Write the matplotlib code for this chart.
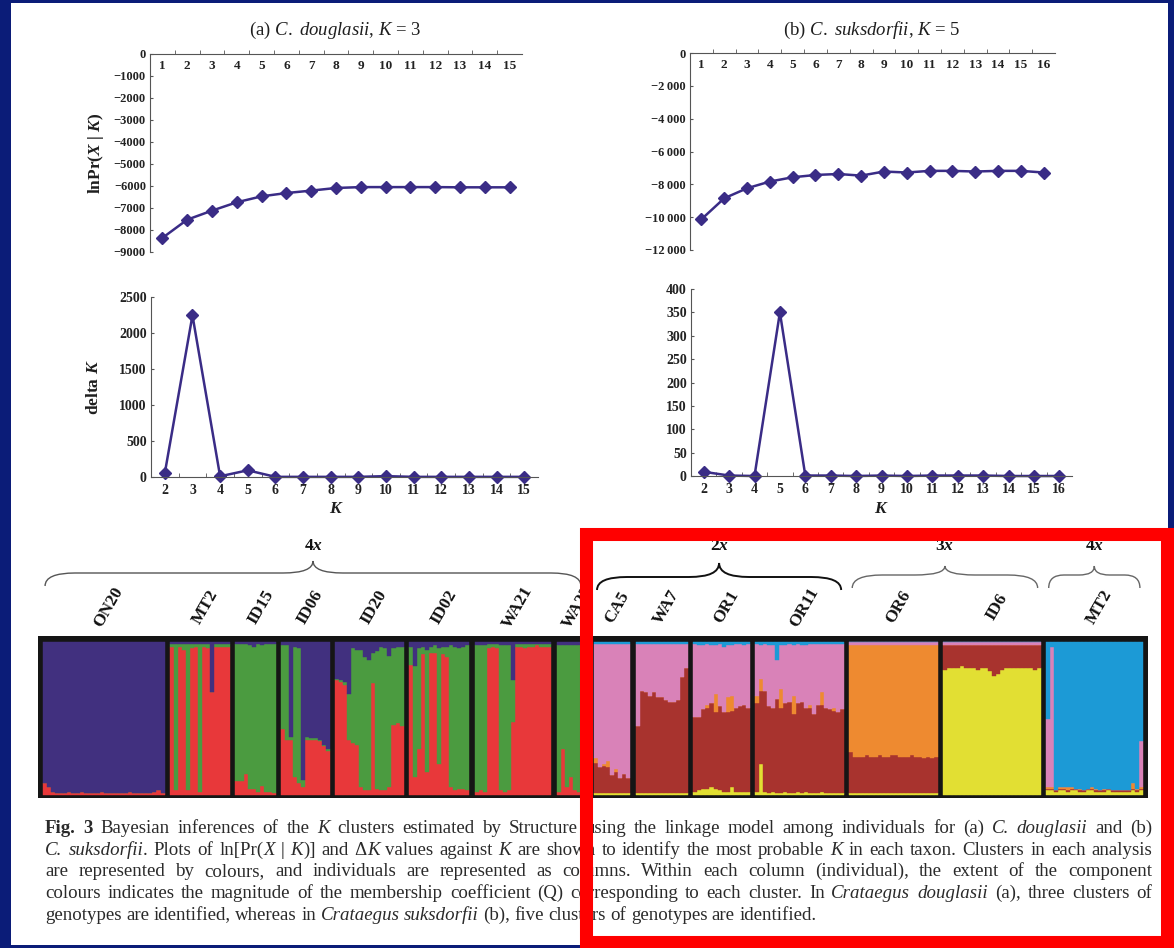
import numpy as np
import matplotlib.pyplot as plt
from matplotlib.path import Path
from matplotlib.patches import PathPatch, Rectangle
from matplotlib.ticker import FuncFormatter

plt.rcParams['font.family'] = ['Liberation Serif', 'DejaVu Serif']
plt.rcParams['font.weight'] = 'bold'
plt.rcParams['mathtext.fontset'] = 'custom'
plt.rcParams['mathtext.rm'] = 'Liberation Serif:weight=normal'
plt.rcParams['mathtext.it'] = 'Liberation Serif:style=italic:weight=normal'
plt.rcParams['mathtext.bf'] = 'Liberation Serif:weight=bold'
plt.rcParams['mathtext.bfit'] = 'Liberation Serif:style=italic:weight=bold'

W, H = 1174, 948

# ---- ln Pr(X|K) and delta K ----
k_doug = [1, 2, 3, 4, 5, 6, 7, 8, 9, 10, 11, 12, 13, 14, 15]
lnpr_doug = [-8360, -7530, -7120, -6740, -6470, -6320, -6210, -6090, -6050,
             -6050, -6050, -6050, -6060, -6060, -6060]
k_suks = [1, 2, 3, 4, 5, 6, 7, 8, 9, 10, 11, 12, 13, 14, 15, 16]
lnpr_suks = [-10130, -8850, -8240, -7830, -7570, -7430, -7370, -7470, -7220,
             -7280, -7180, -7180, -7220, -7180, -7180, -7280]
dk_k_doug = [2, 3, 4, 5, 6, 7, 8, 9, 10, 11, 12, 13, 14, 15]
dk_doug = [55, 2245, 10, 93, 2, 2, 2, 2, 12, 2, 2, 2, 2, 2]
dk_k_suks = [2, 3, 4, 5, 6, 7, 8, 9, 10, 11, 12, 13, 14, 15, 16]
dk_suks = [9, 1, 0, 350, 1, 1, 0, 1, 0, 1, 1, 1, 0, 0, 0]

# ---- Structure bar plots: (a) red / green, purple on top ----
pops_a = ['ON20', 'MT2', 'ID15', 'ID06', 'ID20', 'ID02', 'WA21', 'WA22']
red_a = [
    [0.08, 0.05, 0.02, 0.01, 0.01, 0.01, 0.02, 0.01, 0.01, 0.02, 0.01, 0.01, 0.01, 0.01, 0.02,
     0.01, 0.01, 0.01, 0.01, 0.01, 0.01, 0.02, 0.01, 0.01, 0.01, 0.01, 0.01, 0.02, 0.03, 0.01],
    [0.97, 0.03, 0.97, 0.95, 0.03, 0.96, 0.97, 0.02, 0.97, 0.96, 0.67, 0.97, 0.97, 0.97, 0.97],
    [0.09, 0.09, 0.14, 0.04, 0.04, 0.02, 0.06, 0.02, 0.02, 0.01],
    [0.43, 0.36, 0.36, 0.12, 0.08, 0.05, 0.36, 0.36, 0.36, 0.35, 0.32, 0.29],
    [0.75, 0.74, 0.72, 0.36, 0.34, 0.33, 0.05, 0.03, 0.03, 0.73, 0.04, 0.03, 0.03, 0.05, 0.46,
     0.47, 0.45],
    [0.85, 0.12, 0.30, 0.92, 0.15, 0.93, 0.93, 0.20, 0.92, 0.90, 0.05, 0.03, 0.04, 0.04, 0.03],
    [0.02, 0.03, 0.02, 0.96, 0.97, 0.96, 0.03, 0.02, 0.03, 0.48, 0.97, 0.97, 0.96, 0.97, 0.97,
     0.98, 0.97, 0.97, 0.97],
    [0.02, 0.30, 0.05, 0.12, 0.03, 0.02, 0.02, 0.02],
]
green_a = [
    [0.00, 0.00, 0.00, 0.00, 0.00, 0.00, 0.00, 0.00, 0.00, 0.00, 0.00, 0.00, 0.00, 0.00, 0.00,
     0.00, 0.00, 0.00, 0.00, 0.00, 0.00, 0.00, 0.00, 0.00, 0.00, 0.00, 0.00, 0.00, 0.00, 0.00],
    [0.02, 0.96, 0.02, 0.04, 0.96, 0.03, 0.02, 0.97, 0.02, 0.03, 0.00, 0.02, 0.02, 0.02, 0.02],
    [0.90, 0.90, 0.85, 0.94, 0.93, 0.97, 0.92, 0.97, 0.97, 0.98],
    [0.55, 0.62, 0.02, 0.85, 0.88, 0.05, 0.02, 0.01, 0.01, 0.01, 0.01, 0.01],
    [0.01, 0.01, 0.02, 0.30, 0.62, 0.62, 0.90, 0.87, 0.85, 0.20, 0.90, 0.94, 0.93, 0.86, 0.50,
     0.50, 0.52],
    [0.12, 0.72, 0.66, 0.05, 0.80, 0.04, 0.05, 0.76, 0.05, 0.07, 0.93, 0.94, 0.92, 0.93, 0.95],
    [0.96, 0.95, 0.96, 0.03, 0.02, 0.03, 0.95, 0.96, 0.95, 0.27, 0.02, 0.02, 0.03, 0.02, 0.02,
     0.01, 0.02, 0.02, 0.02],
    [0.96, 0.68, 0.93, 0.86, 0.95, 0.96, 0.96, 0.96],
]

# ---- (b) yellow / dark red / orange / pink, blue on top ----
pops_b = ['CA5', 'WA7', 'OR1', 'OR11', 'OR6', 'ID6', 'MT2']
yellow_b = [
    [0.01, 0.01, 0.01, 0.01, 0.01, 0.01, 0.01, 0.01, 0.01],
    [0.01, 0.01, 0.01, 0.01, 0.01, 0.01, 0.01, 0.01, 0.01, 0.01, 0.01, 0.01, 0.01],
    [0.02, 0.03, 0.04, 0.04, 0.05, 0.04, 0.03, 0.02, 0.02, 0.05, 0.02, 0.02, 0.02, 0.02],
    [0.02, 0.20, 0.02, 0.01, 0.02, 0.01, 0.01, 0.02, 0.01, 0.01, 0.02, 0.01, 0.02, 0.01, 0.01,
     0.01, 0.02, 0.01, 0.01, 0.01, 0.01, 0.01],
    [0.01, 0.01, 0.01, 0.01, 0.01, 0.01, 0.01, 0.01, 0.01, 0.01, 0.01, 0.01, 0.01, 0.01, 0.01,
     0.01, 0.01, 0.01, 0.01, 0.01, 0.01, 0.01],
    [0.82, 0.83, 0.83, 0.83, 0.84, 0.83, 0.83, 0.83, 0.82, 0.83, 0.83, 0.81, 0.78, 0.79, 0.82,
     0.83, 0.83, 0.83, 0.83, 0.83, 0.83, 0.83, 0.82, 0.83],
    [0.03, 0.03, 0.02, 0.03, 0.03, 0.02, 0.03, 0.03, 0.02, 0.02, 0.03, 0.03, 0.02, 0.02, 0.02,
     0.03, 0.02, 0.02, 0.02, 0.02, 0.02, 0.03, 0.02, 0.03],
]
darkred_b = [
    [0.20, 0.17, 0.18, 0.17, 0.12, 0.14, 0.10, 0.13, 0.10],
    [0.44, 0.67, 0.66, 0.64, 0.66, 0.63, 0.63, 0.61, 0.60, 0.60, 0.61, 0.76, 0.82],
    [0.49, 0.48, 0.52, 0.53, 0.55, 0.50, 0.55, 0.52, 0.52, 0.50, 0.55, 0.56, 0.57, 0.55],
    [0.58, 0.48, 0.66, 0.57, 0.55, 0.62, 0.56, 0.58, 0.60, 0.52, 0.58, 0.60, 0.55, 0.56, 0.52,
     0.58, 0.57, 0.56, 0.55, 0.54, 0.53, 0.55],
    [0.27, 0.24, 0.24, 0.24, 0.25, 0.24, 0.24, 0.25, 0.24, 0.24, 0.25, 0.25, 0.24, 0.24, 0.24,
     0.25, 0.24, 0.24, 0.23, 0.24, 0.23, 0.24],
    [0.16, 0.15, 0.15, 0.15, 0.14, 0.15, 0.15, 0.15, 0.16, 0.15, 0.15, 0.17, 0.20, 0.19, 0.16,
     0.15, 0.15, 0.15, 0.15, 0.15, 0.15, 0.15, 0.16, 0.15],
    [0.01, 0.01, 0.01, 0.01, 0.01, 0.01, 0.01, 0.01, 0.01, 0.01, 0.01, 0.01, 0.01, 0.01, 0.01,
     0.01, 0.01, 0.01, 0.01, 0.01, 0.01, 0.01, 0.01, 0.01],
]
orange_b = [
    [0.03, 0.00, 0.01, 0.04, 0.00, 0.02, 0.00, 0.00, 0.00],
    [0.00, 0.00, 0.00, 0.00, 0.00, 0.00, 0.00, 0.00, 0.00, 0.00, 0.00, 0.00, 0.00],
    [0.00, 0.00, 0.00, 0.02, 0.00, 0.12, 0.00, 0.00, 0.10, 0.10, 0.00, 0.00, 0.00, 0.00],
    [0.05, 0.08, 0.00, 0.00, 0.00, 0.00, 0.12, 0.00, 0.00, 0.12, 0.00, 0.00, 0.00, 0.02, 0.00,
     0.00, 0.08, 0.00, 0.00, 0.02, 0.00, 0.00],
    [0.70, 0.73, 0.73, 0.73, 0.72, 0.73, 0.73, 0.72, 0.73, 0.73, 0.72, 0.72, 0.73, 0.73, 0.73,
     0.72, 0.73, 0.73, 0.74, 0.73, 0.74, 0.73],
    [0.00, 0.00, 0.00, 0.00, 0.00, 0.00, 0.00, 0.00, 0.00, 0.00, 0.00, 0.00, 0.00, 0.00, 0.00,
     0.00, 0.00, 0.00, 0.00, 0.00, 0.00, 0.00, 0.00, 0.00],
    [0.01, 0.01, 0.00, 0.01, 0.01, 0.02, 0.01, 0.00, 0.01, 0.00, 0.00, 0.01, 0.01, 0.00, 0.01,
     0.00, 0.00, 0.00, 0.00, 0.00, 0.00, 0.04, 0.01, 0.01],
]
pink_b = [
    [0.75, 0.81, 0.79, 0.77, 0.86, 0.82, 0.88, 0.85, 0.88],
    [0.54, 0.31, 0.32, 0.34, 0.32, 0.35, 0.35, 0.37, 0.38, 0.38, 0.37, 0.22, 0.16],
    [0.48, 0.47, 0.42, 0.40, 0.38, 0.32, 0.41, 0.43, 0.34, 0.33, 0.42, 0.41, 0.39, 0.42],
    [0.34, 0.22, 0.31, 0.40, 0.41, 0.25, 0.29, 0.38, 0.38, 0.33, 0.39, 0.37, 0.41, 0.40, 0.46,
     0.40, 0.32, 0.42, 0.43, 0.42, 0.45, 0.43],
    [0.02, 0.02, 0.02, 0.02, 0.02, 0.02, 0.02, 0.02, 0.02, 0.02, 0.02, 0.02, 0.02, 0.02, 0.02,
     0.02, 0.02, 0.02, 0.02, 0.02, 0.02, 0.02],
    [0.02, 0.02, 0.02, 0.02, 0.02, 0.02, 0.02, 0.02, 0.02, 0.02, 0.02, 0.02, 0.02, 0.02, 0.02,
     0.02, 0.02, 0.02, 0.02, 0.02, 0.02, 0.02, 0.02, 0.02],
    [0.45, 0.92, 0.00, 0.00, 0.00, 0.00, 0.00, 0.00, 0.00, 0.00, 0.00, 0.00, 0.00, 0.00, 0.00,
     0.00, 0.00, 0.00, 0.00, 0.00, 0.00, 0.00, 0.00, 0.30],
]

ploidy_b = [('2', 0, 3), ('3', 4, 5), ('4', 6, 6)]

caption = [
    "#Fig. 3# Bayesian inferences of the _K_ clusters estimated by Structure using the linkage "
    "model among individuals for (a) _C. douglasii_ and (b)",
    "_C. suksdorfii_. Plots of ln[Pr(_X_ | _K_)] and Δ_K_ values against _K_ are shown to "
    "identify the most probable _K_ in each taxon. Clusters in each analysis",
    "are represented by colours, and individuals are represented as columns. Within each "
    "column (individual), the extent of the component",
    "colours indicates the magnitude of the membership coefficient (Q) corresponding to each "
    "cluster. In _Crataegus douglasii_ (a), three clusters of",
    "genotypes are identified, whereas in _Crataegus suksdorfii_ (b), five clusters of "
    "genotypes are identified.",
]

LINE = '#3a2c86'
COLS_A = ['#e8383a', '#4b9b40', '#41307f']
COLS_B = ['#e2df33', '#a8332e', '#ee8a30', '#d982b8', '#1c9ad6']


def box(x0, y0, x1, y1):
    return [x0 / W, 1 - y1 / H, (x1 - x0) / W, (y1 - y0) / H]


fig = plt.figure(figsize=(W / 100, H / 100), dpi=100, facecolor='#0b1c78')

bg = fig.add_axes([0, 0, 1, 1], zorder=0)
bg.set_xlim(0, W)
bg.set_ylim(H, 0)
bg.axis('off')
bg.add_patch(Rectangle((11, 3), 1157, 942, facecolor='white', edgecolor='none'))


def lnpr_panel(rect, k, vals, ymin, step, fmt):
    ax = fig.add_axes(box(*rect), zorder=2)
    ax.set_facecolor('none')
    ax.plot(k, vals, color=LINE, lw=1.8, marker='D', ms=6.5, mfc=LINE, mec=LINE)
    ax.set_xlim(0.5, k[-1] + 0.5)
    ax.set_ylim(ymin, 0)
    ax.spines[['bottom', 'right']].set_visible(False)
    ax.spines[['left', 'top']].set_color('#555555')
    ax.xaxis.set_ticks_position('top')
    ax.set_xticks(k)
    ax.set_xticks(np.arange(1.5, k[-1], 1), minor=True)
    ax.tick_params(axis='x', which='major', length=0, pad=-13, labelsize=9.5, labelcolor='#222')
    ax.tick_params(axis='x', which='minor', length=3, direction='out', color='#555555')
    ax.set_yticks(np.arange(ymin, 1, step))
    ax.yaxis.set_major_formatter(FuncFormatter(fmt))
    ax.tick_params(axis='y', length=2.5, direction='in', labelsize=9, pad=3, color='#555555',
                   labelcolor='#222')
    return ax


def dk_panel(rect, k, vals, ymax, step):
    ax = fig.add_axes(box(*rect), zorder=2)
    ax.set_facecolor('none')
    ax.plot(k, vals, color=LINE, lw=1.8, marker='D', ms=6.5, mfc=LINE, mec=LINE, clip_on=False)
    ax.set_xlim(k[0] - 0.5, k[-1] + 0.5)
    ax.set_ylim(0, ymax)
    ax.spines[['top', 'right']].set_visible(False)
    ax.spines[['left', 'bottom']].set_color('#555555')
    ax.set_xticks(k)
    ax.set_xticks(np.arange(k[0] + 0.5, k[-1], 1), minor=True)
    ax.tick_params(axis='x', which='major', length=0, pad=5, labelsize=10, labelcolor='#222')
    ax.tick_params(axis='x', which='minor', length=3, direction='in', color='#555555')
    ax.set_yticks(np.arange(0, ymax + 1, step))
    ax.tick_params(axis='y', length=2.5, direction='in', labelsize=10, pad=3, color='#555555',
                   labelcolor='#222')
    return ax


fmt_a = lambda v, p: f"{int(v)}".replace('-', '\u2212')
fmt_b = lambda v, p: f"{int(v):,}".replace(',', '\u2009').replace('-', '\u2212')

lnpr_panel((150, 54, 522, 252), k_doug, lnpr_doug, -9000, 1000, fmt_a)
lnpr_panel((690, 53, 1055, 250), k_suks, lnpr_suks, -12000, 2000, fmt_b)
dk_panel((151, 297, 538, 477), dk_k_doug, dk_doug, 2500, 500)
dk_panel((691, 289, 1072, 476), dk_k_suks, dk_suks, 400, 50)


def ftext(x, y, s, **kw):
    fig.text(x / W, 1 - y / H, s, color='#1e1e1e', **kw)


ftext(335, 30, r"(a) $\mathit{C.}$ $\mathit{douglasii}$, $\mathit{K}$ = 3", fontsize=13.5,
      weight='normal', ha='center', va='center')
ftext(872, 30, r"(b) $\mathit{C.}$ $\mathit{suksdorfii}$, $\mathit{K}$ = 5", fontsize=13.5,
      weight='normal', ha='center', va='center')
ftext(96, 153, r"lnPr($\mathbfit{X}$ | $\mathbfit{K}$)", fontsize=12.5, rotation=90,
      ha='center', va='center')
ftext(94, 387, r"delta $\mathbfit{K}$", fontsize=12.5, rotation=90, ha='center', va='center')
ftext(336, 509, r"$\mathbfit{K}$", fontsize=12.5, ha='center', va='center')
ftext(881, 509, r"$\mathbfit{K}$", fontsize=12.5, ha='center', va='center')

# ---- Structure plot ----
ax_s = fig.add_axes(box(38, 636, 1148, 798), zorder=2)
ax_s.set_facecolor('#151515')
for sp in ax_s.spines.values():
    sp.set_visible(False)
ax_s.set_xticks([])
ax_s.set_yticks([])

GAP = 1.25
pos = GAP
blocks = []
for i, name in enumerate(pops_a):
    blocks.append((name, [red_a[i], green_a[i]], COLS_A))
for i, name in enumerate(pops_b):
    blocks.append((name, [yellow_b[i], darkred_b[i], orange_b[i], pink_b[i]], COLS_B))

edges = []
for name, layers, cols in blocks:
    n = len(layers[0])
    x = pos + np.arange(n) + 0.5
    bottom = np.zeros(n)
    for vals, c in zip(layers, cols[:-1]):
        ax_s.bar(x, vals, width=1.0, bottom=bottom, color=c, ec=c, lw=0.3)
        bottom = bottom + np.array(vals)
    ax_s.bar(x, 1 - bottom, width=1.0, bottom=bottom, color=cols[-1], ec=cols[-1], lw=0.3)
    edges.append((pos, pos + n))
    pos += n + GAP
ax_s.set_xlim(0, pos)
ax_s.set_ylim(-3 / 153, 1 + 6 / 153)

# overlay in pixel coordinates
ov = fig.add_axes([0, 0, 1, 1], zorder=5)
ov.set_xlim(0, W)
ov.set_ylim(H, 0)
ov.axis('off')


def xpix(v):
    return ax_s.transData.transform((v, 0))[0]


for (name, _, _), (e0, e1) in zip(blocks, edges):
    ov.text(xpix((e0 + e1) / 2) + 5, 607, name, rotation=60, ha='center', va='center',
            fontsize=12.5, color='#111')


def brace(x0, x1, y, color, lw, curl=13, tip=12):
    xm = (x0 + x1) / 2
    r = min(30, (x1 - x0) / 6)
    verts = [(x0, y + curl), (x0, y), (x0 + r, y), (xm - r, y), (xm, y), (xm, y - tip),
             (xm, y), (xm + r, y), (x1 - r, y), (x1, y), (x1, y + curl)]
    codes = [Path.MOVETO, Path.CURVE3, Path.CURVE3, Path.LINETO, Path.CURVE3, Path.CURVE3,
             Path.CURVE3, Path.CURVE3, Path.LINETO, Path.CURVE3, Path.CURVE3]
    ov.add_patch(PathPatch(Path(verts, codes), fill=False, ec=color, lw=lw))
    return xm


xm = brace(xpix(edges[0][0]) + 2, xpix(edges[len(pops_a) - 1][1]) - 8, 573, '#555555', 1.0)
ov.text(xm, 546, r"4$\mathbfit{x}$", fontsize=12.5, ha='center', va='center', color='#111')
na = len(pops_a)
for j, (lab, b0, b1) in enumerate(ploidy_b):
    x0 = xpix(edges[na + b0][0]) + 3
    x1 = xpix(edges[na + b1][1]) - 3
    col, lw = ('#111111', 1.4) if j == 0 else ('#666666', 1.0)
    xm = brace(x0, x1, 577 if j == 0 else 575, col, lw, tip=14 if j == 0 else 9)
    ov.text(xm, 546, lab + r"$\mathbfit{x}$", fontsize=12.5, ha='center', va='center',
            color='#111')

# ---- caption, justified ----
STY = {'n': dict(style='normal', weight='normal'), 'i': dict(style='italic', weight='normal'),
       'b': dict(style='normal', weight='bold')}


def parse(s):
    words, cur, seg, st = [], [], '', 'n'
    for ch in s:
        if ch in '_#':
            if seg:
                cur.append((seg, st))
                seg = ''
            new = 'i' if ch == '_' else 'b'
            st = 'n' if st == new else new
        elif ch == ' ':
            if seg:
                cur.append((seg, st))
                seg = ''
            if cur:
                words.append(cur)
                cur = []
        else:
            seg += ch
    if seg:
        cur.append((seg, st))
    if cur:
        words.append(cur)
    return words


renderer = fig.canvas.get_renderer()
CX0, CX1 = 45, 1152
for li, line in enumerate(caption):
    y = 833 + li * 21.7
    placed = []
    for word in parse(line):
        items, w = [], 0
        for seg, st in word:
            t = ov.text(0, y, seg, fontsize=13.6, color='#2a2a2a', va='baseline', **STY[st])
            tw = t.get_window_extent(renderer).width
            items.append((t, w))
            w += tw
        placed.append((items, w))
    total = sum(w for _, w in placed)
    if li < len(caption) - 1:
        gap = (CX1 - CX0 - total) / (len(placed) - 1)
    else:
        gap = 4.5
    x = CX0
    for items, w in placed:
        for t, off in items:
            t.set_x(x + off)
        x += w + gap

ov.add_patch(Rectangle((585.5, 533.5), 581, 408, fill=False, ec='#ff0000', lw=9.4, zorder=20))

fig.savefig('out.png', dpi=100, facecolor=fig.get_facecolor())
